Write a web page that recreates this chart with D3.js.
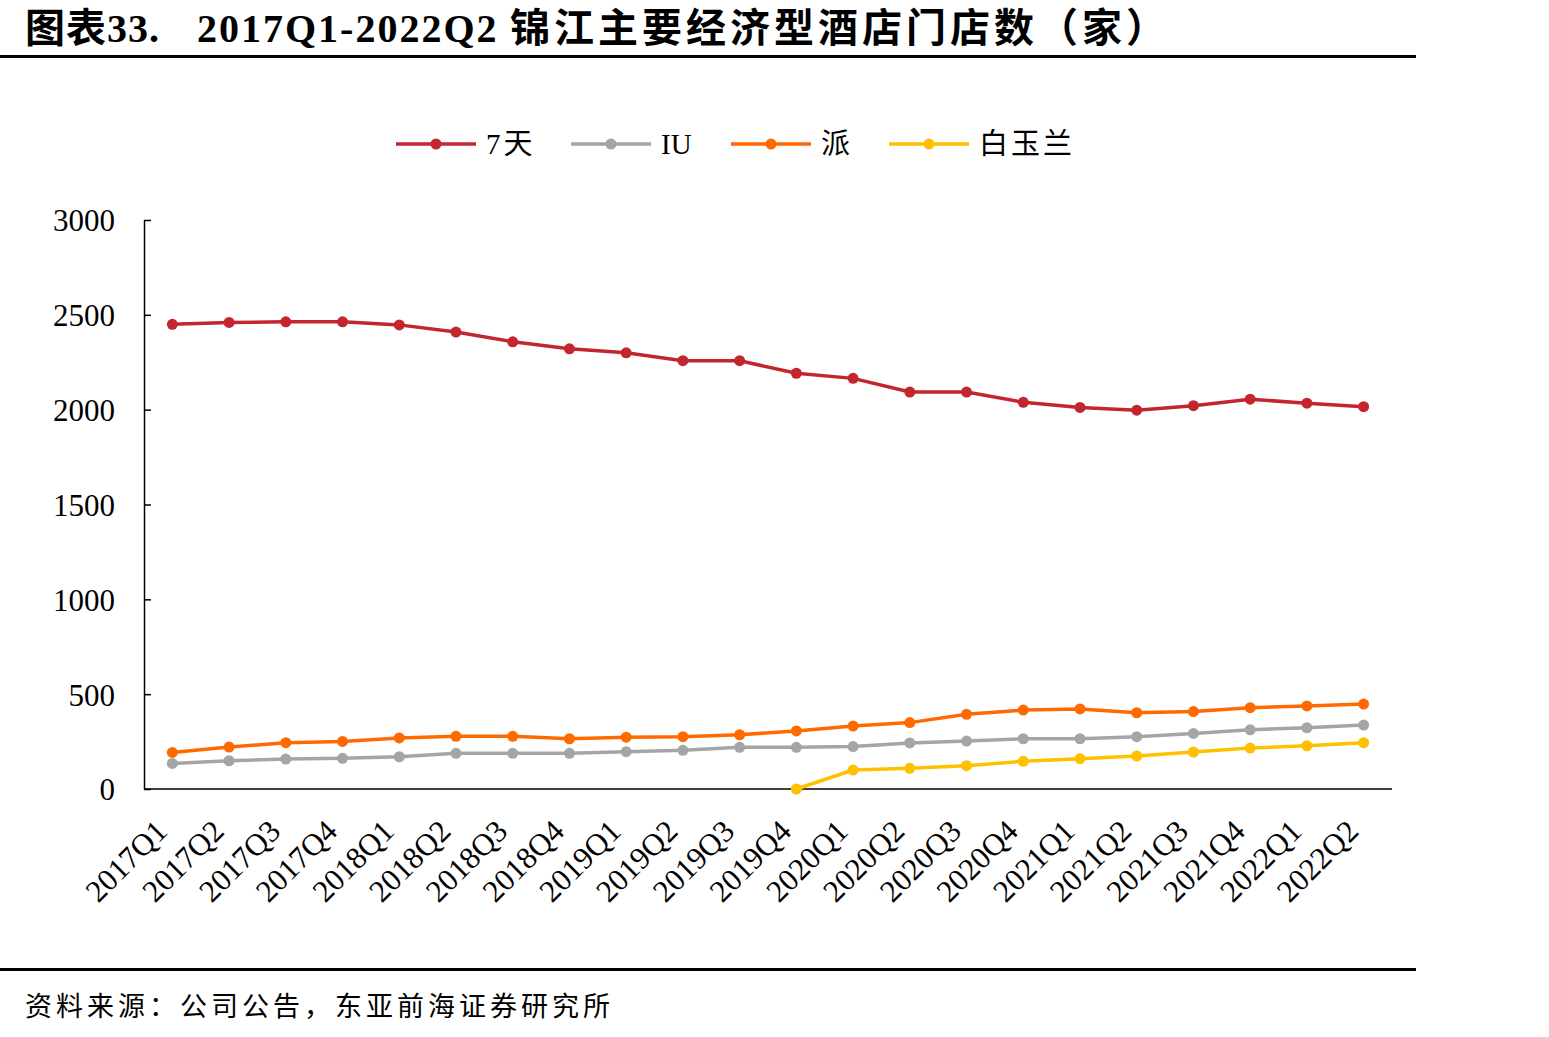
<!DOCTYPE html>
<html>
<head>
<meta charset="utf-8">
<script src="https://cdn.jsdelivr.net/npm/d3@7"></script>
<style>
  body { margin: 0; background: #fff; }
  text { font-family: "Liberation Serif", "Noto Sans CJK SC", serif; }
</style>
</head>
<body>
<div class="canvas"></div>
<script>
// data
const quarters = ['2017Q1','2017Q2','2017Q3','2017Q4','2018Q1','2018Q2','2018Q3','2018Q4',
  '2019Q1','2019Q2','2019Q3','2019Q4','2020Q1','2020Q2','2020Q3','2020Q4',
  '2021Q1','2021Q2','2021Q3','2021Q4','2022Q1','2022Q2'];
const qitian = [2450,2460,2463,2463,2447,2409,2358,2321,2300,2258,2258,2192,2165,2093,2093,2039,2012,1997,2021,2055,2034,2016];
const iu = [135,149,158,162,170,188,188,188,197,204,220,220,224,243,253,265,265,276,293,312,323,337];
const pai = [193,221,244,251,269,278,278,265,273,276,286,306,332,350,394,416,422,402,408,429,438,448];
const baiyulan = [null,null,null,null,null,null,null,null,null,null,null,0,100,109,123,146,160,174,195,216,228,244];
const yTicks = [0,500,1000,1500,2000,2500,3000];

const series = [
  { name: '7天', values: qitian, color: '#C4262E' },
  { name: 'IU', values: iu, color: '#A5A5A5' },
  { name: '派', values: pai, color: '#FF6A00' },
  { name: '白玉兰', values: baiyulan, color: '#FFC000' }
];

const width = 1549, height = 1037;
const margin = { top: 220, right: 157, bottom: 248, left: 144 };
const graphWidth = width - margin.left - margin.right;
const graphHeight = height - margin.top - margin.bottom;

const svg = d3.select('.canvas')
  .append('svg')
  .attr('width', width)
  .attr('height', height);

// title + rules
const title = svg.append('text')
  .attr('y', 42)
  .attr('font-size', 40).attr('font-weight', 'bold')
  .style('font-family', '"Liberation Serif", "Noto Sans CJK SC", serif');
title.append('tspan').attr('x', 25).attr('letter-spacing', 1).text('图表33.');
title.append('tspan').attr('x', 197).attr('letter-spacing', 2).text('2017Q1-2022Q2');
title.append('tspan').attr('x', 510).attr('letter-spacing', 4).text('锦江主要经济型酒店门店数（家）');

svg.append('rect').attr('x', 0).attr('y', 55).attr('width', 1416).attr('height', 3).attr('fill', '#000');
svg.append('rect').attr('x', 0).attr('y', 968).attr('width', 1416).attr('height', 3).attr('fill', '#000');

svg.append('text')
  .attr('x', 25).attr('y', 1016)
  .attr('font-size', 27)
  .attr('letter-spacing', 4)
  .style('font-family', '"Noto Sans CJK SC", serif')
  .text('资料来源：公司公告，东亚前海证券研究所');

const graph = svg.append('g')
  .attr('transform', `translate(${margin.left}, ${margin.top})`);

// scales
const x = d3.scalePoint().domain(quarters).range([0, graphWidth]).padding(0.5);
const y = d3.scaleLinear().domain([0, 3000]).range([graphHeight, 0]);

// axes
const yAxis = d3.axisLeft(y).tickValues(yTicks).tickFormat(d3.format('d'))
  .tickSizeInner(-7).tickSizeOuter(0).tickPadding(29);
const yAxisGroup = graph.append('g').call(yAxis);
yAxisGroup.select('.domain').attr('stroke', '#000').attr('stroke-width', 1.5);
yAxisGroup.selectAll('.tick line').attr('stroke', '#000').attr('stroke-width', 1.5);
yAxisGroup.selectAll('text')
  .attr('font-size', 31)
  .attr('dy', '0.35em')
  .style('font-family', '"Liberation Serif", serif')
  .attr('fill', '#000');

const xAxis = d3.axisBottom(x).tickSize(0).tickPadding(0);
const xAxisGroup = graph.append('g')
  .attr('transform', `translate(0, ${graphHeight})`)
  .call(xAxis);
xAxisGroup.select('.domain').attr('stroke', '#000').attr('stroke-width', 1.5)
  .attr('d', `M0,0H${graphWidth}`);
xAxisGroup.selectAll('text')
  .attr('font-size', 31)
  .style('font-family', '"Liberation Serif", serif')
  .attr('fill', '#000')
  .attr('text-anchor', 'end')
  .attr('dy', 0)
  .attr('transform', 'translate(-4, 44) rotate(-45)');

// lines
const line = d3.line()
  .defined(d => d != null)
  .x((d, i) => x(quarters[i]))
  .y(d => y(d));

series.forEach(s => {
  graph.append('path')
    .datum(s.values)
    .attr('fill', 'none')
    .attr('stroke', s.color)
    .attr('stroke-width', 3.5)
    .attr('stroke-linejoin', 'round')
    .attr('d', line);

  graph.selectAll(null)
    .data(s.values.map((v, i) => ({ v, q: quarters[i] })).filter(d => d.v != null))
    .enter()
    .append('circle')
      .attr('cx', d => x(d.q))
      .attr('cy', d => y(d.v))
      .attr('r', 5.5)
      .attr('fill', s.color);
});

// legend
const legendX = [396, 571, 731, 889];
const legend = svg.append('g').attr('transform', 'translate(0, 144)');
series.forEach((s, i) => {
  const lx = legendX[i];
  legend.append('line')
    .attr('x1', lx).attr('x2', lx + 80)
    .attr('stroke', s.color).attr('stroke-width', 3.5);
  legend.append('circle').attr('cx', lx + 40).attr('r', 5.5).attr('fill', s.color);
  legend.append('text')
    .attr('x', lx + 90).attr('y', 0).attr('dy', '0.35em')
    .attr('font-size', 29)
    .attr('letter-spacing', s.name === 'IU' ? 0 : 3)
    .style('font-family', '"Liberation Serif", "Noto Sans CJK SC", serif')
    .text(s.name);
});
</script>
</body>
</html>
